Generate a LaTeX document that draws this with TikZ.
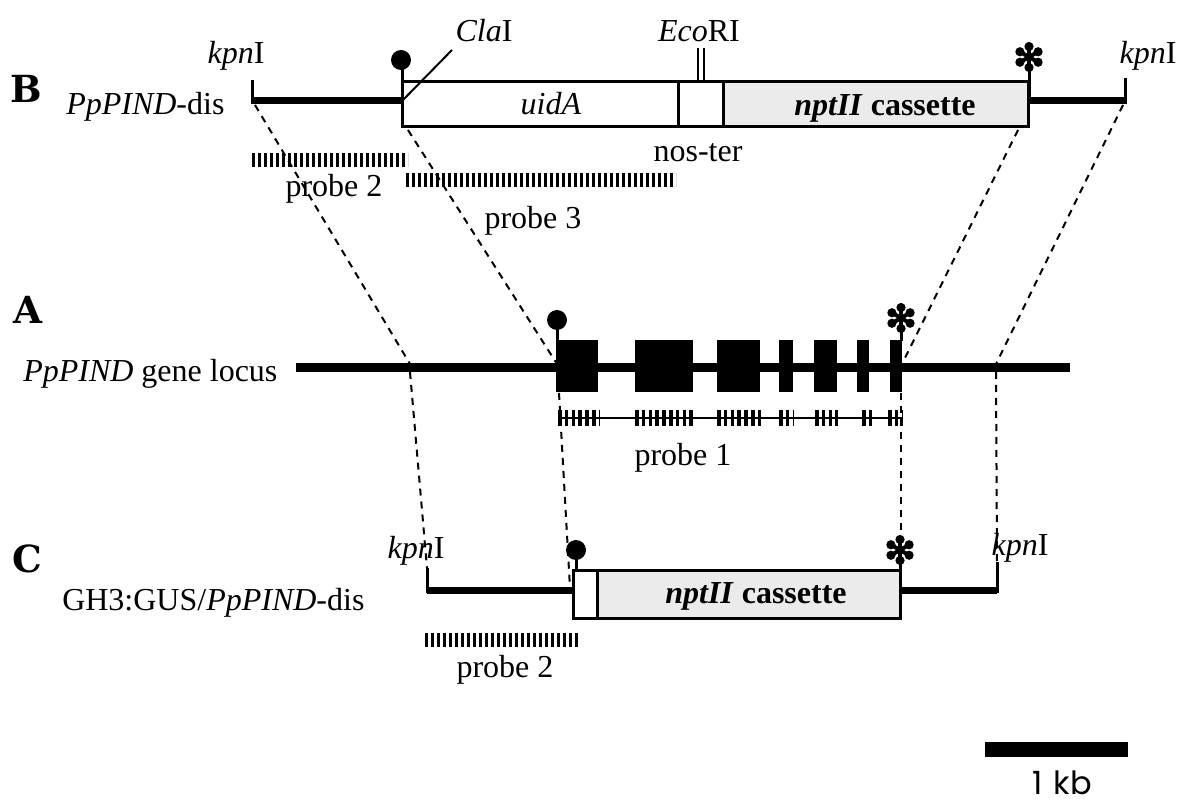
\documentclass[tikz,border=0pt]{standalone}
\usepackage{fontspec}
\setmainfont{Liberation Serif}
\newfontfamily\panelfont{DejaVu Serif}
\newfontfamily\barfont{Poppins}
\begin{document}
\begin{tikzpicture}[x=0.75pt,y=-0.75pt,
  txt/.style={inner sep=0pt, anchor=base, font=\fontsize{24}{28}\selectfont},
  panel/.style={inner sep=0pt, anchor=base, font=\panelfont\bfseries\fontsize{28}{32}\selectfont},
  dna/.style={line width=5.25pt},
  dnaA/.style={line width=6.75pt},
  tickline/.style={line width=2.25pt},
  conn/.style={line width=1.5pt, dash pattern=on 5.25pt off 4.5pt},
  probebar/.style={line width=10.5pt, dash pattern=on 2.6pt off 1.9pt},
  probeone/.style={line width=12pt, dash pattern=on 2.7pt off 2.4pt},
  boxline/.style={line width=2.25pt},
  stipple/.style={fill=black!8},
  ast/.pic={\foreach \a in {90,30,-30,-90,-150,150}{\draw[line width=3pt, line cap=round] (0,0) -- (\a:9); \fill (\a:10.5) circle[radius=4.6];}}
]
\useasboundingbox (0,0) rectangle (1179,806);

% ---------- Row B ----------
\coordinate (bLtop) at (252,80);
\coordinate (bL) at (252,101);
\coordinate (bBoxL) at (402,101);
\coordinate (bBoxBL) at (408,130);
\coordinate (bBoxBR) at (1018,130);
\coordinate (bR) at (1125,101);
\coordinate (bRtop) at (1125,78);
\coordinate (bAst) at (1029,101);
\fill[stipple] (723,82) rectangle (1028,127);
\draw[boxline] (402,82) rectangle (1028,127);
\draw[boxline] (678,82) -- (678,127);
\draw[boxline] (723,82) -- (723,127);
\draw[tickline] (bLtop) -- ([yshift=-2.6pt]bL);
\draw[dna] (bL) -- (bBoxL);
\draw[dna] (bAst) -- (bR);
\draw[tickline] (bRtop) -- ([yshift=-2.6pt]bR);
\draw[tickline] (402,66) -- (bBoxL);
\fill (401,60) circle[radius=10];
\draw[line width=1.5pt] (bBoxL) -- (452,50);
\draw[line width=1.5pt] (698,48) -- (698,82);
\draw[line width=1.5pt] (704,48) -- (704,82);
\draw[tickline] (1029,62) -- (bAst);
\pic at (1029,57) {ast};

\node[txt] (kpnBL) at (236,64) {\textit{kpn}I};
\node[txt] (kpnBR) at (1148,64) {\textit{kpn}I};
\node[txt] (claB) at (484,42) {\textit{Cla}I};
\node[txt] (ecoB) at (699,42) {\textit{Eco}RI};
\node[txt] (uidB) at (551,115) {\textit{uidA}};
\node[txt] (nosB) at (698,162) {nos-ter};
\node[txt] (nptB) at (885,116) {\bfseries\textit{nptII} cassette};
\node[panel] (labB) at (26,103) {B};
\node[txt, anchor=base west] (nameB) at (66,115) {\textit{PpPIND}-dis};

\draw[probebar] (252,160) -- (408,160);
\node[txt] (p2B) at (334,197) {probe 2};
\draw[probebar] (406,180) -- (676,180);
\node[txt] (p3B) at (533,229) {probe 3};

% ---------- Row A ----------
\coordinate (aL) at (296,367);
\coordinate (aR) at (1070,367);
\coordinate (aD1) at (410,364);
\coordinate (aD1b) at (410,372);
\coordinate (aD2) at (557,364);
\coordinate (aD2b) at (559,393);
\coordinate (aD3) at (902,364);
\coordinate (aD3b) at (901,393);
\coordinate (aD4) at (996,364);
\coordinate (aD4b) at (996,372);
\draw[dnaA] (aL) -- (aR);
\fill (556,340) rectangle (598,392);
\fill (635,340) rectangle (693,392);
\fill (717,340) rectangle (760,392);
\fill (779,340) rectangle (793,392);
\fill (814,340) rectangle (837,392);
\fill (857,340) rectangle (869,392);
\fill (890,340) rectangle (902,392);
\draw[tickline] (557,322) -- (557,341);
\fill (557,320) circle[radius=10];
\draw[tickline] (901,324) -- (901,341);
\pic at (901,318) {ast};

\node[panel] (labA) at (28,324) {A};
\node[txt, anchor=base west] (nameA) at (23,381) {\textit{PpPIND} gene locus};

\draw[line width=1.1pt] (558,418) -- (902,418);
\draw[probeone] (558,418) -- (600,418);
\draw[probeone] (635,418) -- (694,418);
\draw[probeone] (717,418) -- (761,418);
\draw[probeone] (779,418) -- (793,418);
\draw[probeone] (815,418) -- (838,418);
\draw[probeone] (862,418) -- (874,418);
\draw[probeone] (888,418) -- (902,418);
\node[txt] (p1A) at (683,465) {probe 1};

% ---------- Row C ----------
\coordinate (cLtop) at (427,568);
\coordinate (cL) at (427,590);
\coordinate (cBoxL) at (573,590);
\coordinate (cBoxLt) at (570,588);
\coordinate (cAst) at (900,590);
\coordinate (cAstTop) at (901,535);
\coordinate (cR) at (997,590);
\coordinate (cRtop) at (997,562);
\fill[stipple] (597,570) rectangle (900,618);
\draw[boxline] (573,570) rectangle (900,618);
\draw[boxline] (597,570) -- (597,618);
\draw[tickline] (cLtop) -- ([yshift=-2.6pt]cL);
\draw[dna] (cL) -- (cBoxL);
\draw[dna] (cAst) -- (cR);
\draw[tickline] (cRtop) -- ([yshift=-2.6pt]cR);
\draw[tickline] (576,556) -- (576,571);
\fill (576,550) circle[radius=10];
\draw[tickline] (900,556) -- (cAst);
\pic at (900,550) {ast};

\node[panel] (labC) at (27,572) {C};
\node[txt, anchor=base west] (nameC) at (62,610) {GH3:GUS/\textit{PpPIND}-dis};
\node[txt] (kpnCL) at (416,558) {\textit{kpn}I};
\node[txt] (kpnCR) at (1020,555) {\textit{kpn}I};
\node[txt] (nptC) at (756,603) {\bfseries\textit{nptII} cassette};
\draw[probebar] (425,640) -- (578,640);
\node[txt] (p2C) at (505,677) {probe 2};

% ---------- connectors ----------
\draw[conn] ([shift={(3,4)}]bL) -- (aD1);
\draw[conn] (bBoxBL) -- (aD2);
\draw[conn] (bBoxBR) -- (aD3);
\draw[conn] ([shift={(-2,4)}]bR) -- (aD4);
\draw[conn] (aD1b) -- (cLtop);
\draw[conn] (aD2b) -- (cBoxLt);
\draw[conn] (aD3b) -- (cAstTop);
\draw[conn] (aD4b) -- (cRtop);

% ---------- scale bar ----------
\fill (985,742) rectangle (1128,757);
\node[inner sep=0pt, anchor=base, font=\barfont\fontsize{24}{28}\selectfont] (kb) at (1062,794) {1\hspace{0.35em}kb};
\end{tikzpicture}
\end{document}
